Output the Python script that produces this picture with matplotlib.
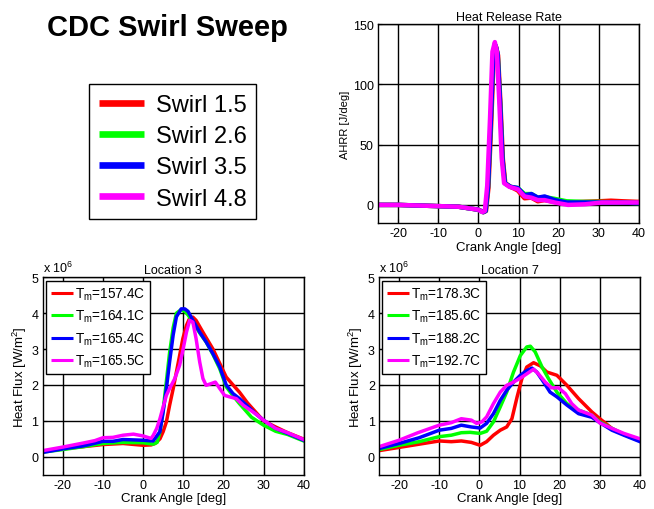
import matplotlib
matplotlib.use("Agg")
import matplotlib.pyplot as plt

plt.rcParams["font.family"] = ["Liberation Sans", "DejaVu Sans"]
plt.rcParams["axes.unicode_minus"] = False

COLORS = ["#ff0000", "#00ff00", "#0000ff", "#ff00ff"]
SWIRL = ["Swirl 1.5", "Swirl 2.6", "Swirl 3.5", "Swirl 4.8"]

# --- heat release rate [J/deg] ---
ahrr_red_x = [-25, -20, -10, -5, -2, 0, 1.3, 1.9, 2.5, 3.2, 3.8, 4.4, 4.9, 5.5, 6.1, 6.7, 8.0, 9.8, 11.5, 13.2, 14.8, 16.5, 19, 22, 26, 30, 33, 36, 40]
ahrr_red_y = [0, 0, -1, -1.5, -3, -4, -6, -5, 14, 68, 122, 131, 124, 84, 38, 18, 15, 12, 5.5, 6, 3, 4, 2.5, 2, 2.5, 3, 3.5, 3, 2.5]
ahrr_grn_x = [-25, -20, -10, -5, -2, 0, 1.2, 1.8, 2.4, 3.1, 3.7, 4.3, 4.8, 5.4, 6.0, 6.6, 8.0, 9.8, 11.5, 13.2, 14.8, 16.5, 19, 22, 26, 30, 35, 40]
ahrr_grn_y = [0, 0, -1, -1.5, -3, -4, -6, -5, 15, 70, 124, 132, 125, 85, 38, 18, 15, 14, 9, 9, 6, 6.5, 5, 3, 2.5, 2.5, 2, 1.5]
ahrr_blu_x = [-25, -20, -10, -5, -2, 0, 1.2, 1.8, 2.4, 3.1, 3.7, 4.3, 4.8, 5.4, 6.0, 6.6, 8.0, 9.8, 11.5, 13.2, 14.8, 16.5, 19, 22, 26, 30, 35, 40]
ahrr_blu_y = [0, 0, -1, -1.5, -3, -4, -6, -5, 15, 70, 124, 132, 125, 85, 38, 18, 15, 14, 8, 9, 6, 7, 4, 2, 2, 2, 2, 1.5]
ahrr_mag_x = [-25, -20, -10, -5, -2, 0, 1, 1.6, 2.2, 2.9, 3.5, 4.1, 4.6, 5.2, 5.8, 6.4, 7.7, 9.8, 11.5, 13.2, 14.8, 16.5, 19, 22.3, 26.5, 30.7, 35, 40]
ahrr_mag_y = [0, 0, -1, -1.5, -3, -4, -6, -5, 16, 72, 127, 135, 127, 86, 39, 18, 15, 13, 7, 6, 4, 4, 2, 0, 0.5, 2, 2, 2]

# --- location 3 heat flux [1e6 W/m2] ---
loc3_red_x = [-25, -20, -15, -10, -5, 0, 2, 3, 4.2, 5, 5.8, 6.6, 7.5, 8.3, 9.1, 9.9, 10.8, 11.6, 12.4, 13.2, 14.9, 17.4, 19.1, 20.7, 22.4, 24, 26, 28, 30, 33, 36, 40]
loc3_red_y = [0.15, 0.22, 0.28, 0.34, 0.37, 0.32, 0.33, 0.37, 0.5, 0.7, 0.97, 1.43, 1.9, 2.36, 2.82, 3.29, 3.66, 3.86, 3.89, 3.8, 3.47, 3.0, 2.6, 2.22, 2.0, 1.8, 1.5, 1.25, 1.0, 0.83, 0.67, 0.49]
loc3_grn_x = [-25, -20, -15, -10, -5, 0, 2.5, 3.5, 4.2, 5.0, 5.8, 6.6, 7.5, 8.3, 9.5, 10.4, 11.2, 12.4, 14.1, 15.7, 17.4, 19.1, 20.7, 22.4, 24, 27, 30, 33, 36, 40]
loc3_grn_y = [0.13, 0.2, 0.28, 0.37, 0.4, 0.39, 0.35, 0.4, 0.7, 1.3, 2.1, 2.9, 3.6, 4.0, 4.1, 4.05, 3.95, 3.75, 3.45, 3.2, 2.85, 2.45, 1.95, 1.7, 1.48, 1.1, 0.88, 0.71, 0.62, 0.44]
loc3_blu_x = [-25, -20, -15, -13, -10, -7.5, -5, 0, 2.5, 4.2, 5.0, 5.8, 6.6, 7.5, 8.3, 9.5, 10.4, 11.2, 12.4, 14.1, 15.7, 17.4, 19.1, 20.7, 22.4, 24, 28, 30, 33, 36, 40]
loc3_blu_y = [0.12, 0.22, 0.3, 0.35, 0.43, 0.43, 0.48, 0.46, 0.44, 0.7, 1.25, 1.9, 2.64, 3.4, 3.9, 4.12, 4.12, 4.05, 3.8, 3.47, 3.2, 2.87, 2.5, 2.0, 1.76, 1.62, 1.2, 1.02, 0.79, 0.65, 0.46]
loc3_mag_x = [-25, -20, -15, -12, -10, -7.5, -5, -2.4, 0, 2, 2.55, 3.4, 4.2, 5.0, 5.8, 6.6, 7.9, 9.1, 9.9, 10.8, 11.6, 12.4, 13.2, 14.1, 14.9, 15.7, 17.0, 18.0, 19.1, 20.3, 21.5, 23.2, 25, 28, 30, 33, 36, 40]
loc3_mag_y = [0.17, 0.27, 0.38, 0.45, 0.53, 0.54, 0.6, 0.63, 0.58, 0.51, 0.6, 0.79, 1.06, 1.39, 1.71, 1.9, 2.18, 2.55, 2.96, 3.47, 3.8, 3.75, 3.29, 2.64, 2.18, 1.99, 2.04, 2.08, 1.9, 1.71, 1.67, 1.62, 1.43, 1.2, 1.02, 0.79, 0.67, 0.48]
loc3_labels = ["157.4", "164.1", "165.4", "165.5"]

# --- location 7 heat flux [1e6 W/m2] ---
loc7_red_x = [-25, -20, -15, -10, -7, -4.5, -2, 0.2, 1.8, 3.5, 5.2, 6.8, 8.1, 9.4, 10.6, 11.8, 13.5, 15.2, 16.8, 19.3, 21.8, 24.7, 28, 30, 33, 36, 40]
loc7_red_y = [0.17, 0.26, 0.35, 0.44, 0.42, 0.44, 0.4, 0.32, 0.42, 0.6, 0.74, 0.83, 1.06, 1.67, 2.18, 2.5, 2.62, 2.53, 2.36, 2.27, 1.99, 1.62, 1.25, 1.06, 0.79, 0.62, 0.46]
loc7_grn_x = [-25, -20, -15, -10, -7, -4.5, -2.3, 0.2, 1.8, 3.5, 5.2, 6.8, 8.5, 10.2, 11.8, 12.7, 13.9, 15.6, 17.2, 19.3, 21.8, 24.7, 28, 30, 33, 36, 40]
loc7_grn_y = [0.2, 0.32, 0.42, 0.56, 0.6, 0.67, 0.68, 0.65, 0.71, 0.97, 1.39, 1.8, 2.36, 2.82, 3.06, 3.08, 2.92, 2.5, 2.18, 1.8, 1.48, 1.3, 1.16, 0.97, 0.79, 0.62, 0.44]
loc7_blu_x = [-25, -20, -15, -10, -7, -4.5, -2, 0.2, 1.8, 3.5, 5.2, 6.8, 8.5, 10.2, 11.8, 13.1, 14.3, 16, 17.6, 19.3, 21.8, 24.7, 28, 30, 33, 36, 40]
loc7_blu_y = [0.23, 0.37, 0.53, 0.74, 0.79, 0.88, 0.83, 0.8, 0.93, 1.2, 1.57, 1.85, 2.08, 2.27, 2.4, 2.47, 2.36, 2.08, 1.8, 1.67, 1.44, 1.2, 1.1, 0.95, 0.74, 0.6, 0.42]
loc7_mag_x = [-25, -20, -15.3, -10, -7, -4.5, -2, -0.7, 0.6, 1.8, 3.5, 5.2, 6.8, 8.5, 10.2, 11.8, 13.5, 14.7, 16.4, 18, 19.7, 21.4, 23, 24.7, 28, 30, 33, 36, 40]
loc7_mag_y = [0.28, 0.46, 0.67, 0.88, 0.95, 1.06, 1.02, 0.93, 0.97, 1.11, 1.48, 1.8, 1.99, 2.08, 2.19, 2.31, 2.44, 2.31, 2.08, 1.92, 1.92, 1.76, 1.48, 1.3, 1.16, 0.94, 0.79, 0.65, 0.5]
loc7_labels = ["178.3", "185.6", "188.2", "192.7"]

XTICKS = [-20, -10, 0, 10, 20, 30, 40]
W, H = 654, 510


def style(ax):
    ax.set_xlim(-25, 40)
    ax.set_xticks(XTICKS)
    ax.grid(True, color="black", lw=1.0)
    ax.set_axisbelow(True)
    ax.tick_params(direction="in", length=3, labelsize=9, pad=3)
    for s in ax.spines.values():
        s.set_color("black")
        s.set_linewidth(1.0)
    ax.set_xlabel("Crank Angle [deg]", fontsize=9.5, labelpad=1)


def frame(leg, lw):
    leg.get_frame().set_edgecolor("black")
    leg.get_frame().set_linewidth(1.0)
    for ln in leg.get_lines():
        ln.set_linewidth(lw)
        ln.set_solid_capstyle("butt")


fig = plt.figure(figsize=(W / 100, H / 100), dpi=100)

# heat release rate
ax = fig.add_axes([378 / W, 1 - 224 / H, 261 / W, 199 / H])
series = [(ahrr_red_x, ahrr_red_y), (ahrr_grn_x, ahrr_grn_y),
          (ahrr_blu_x, ahrr_blu_y), (ahrr_mag_x, ahrr_mag_y)]
handles = []
for (x, y), c in zip(series, COLORS):
    h, = ax.plot(x, y, color=c, lw=3.2, solid_capstyle="round")
    handles.append(h)
style(ax)
ax.set_ylim(-15, 150)
ax.set_yticks([0, 50, 100, 150])
ax.set_title("Heat Release Rate", fontsize=9, pad=3)
ax.set_ylabel("AHRR [J/deg]", fontsize=8, labelpad=2)

# heat flux panels
panels = [
    ("Location 3", 42.7, [(loc3_red_x, loc3_red_y), (loc3_grn_x, loc3_grn_y),
                          (loc3_blu_x, loc3_blu_y), (loc3_mag_x, loc3_mag_y)], loc3_labels),
    ("Location 7", 379, [(loc7_red_x, loc7_red_y), (loc7_grn_x, loc7_grn_y),
                         (loc7_blu_x, loc7_blu_y), (loc7_mag_x, loc7_mag_y)], loc7_labels),
]
for title, left, data, labels in panels:
    ax = fig.add_axes([left / W, 1 - 475.7 / H, 261 / W, 197.4 / H])
    for (x, y), c, lab in zip(data, COLORS, labels):
        ax.plot(x, y, color=c, lw=2.5, label=r"T$_\mathregular{m}$=" + lab + "C")
    style(ax)
    ax.set_ylim(-0.5, 5)
    ax.set_yticks([0, 1, 2, 3, 4, 5])
    ax.set_title(title, fontsize=9, pad=3)
    ax.set_ylabel(r"Heat Flux [W/m$^\mathregular{2}$]", fontsize=9.5, labelpad=2)
    ax.text(0.0, 1.01, r"x 10$^\mathregular{6}$", transform=ax.transAxes,
            fontsize=9, ha="left", va="bottom")
    leg = ax.legend(loc="upper left", fontsize=9.8, handlelength=1.6,
                    handletextpad=0.15, borderpad=0.35, borderaxespad=0.25,
                    labelspacing=0.45, fancybox=False, framealpha=1)
    frame(leg, 2.2)

fig.text(167 / W, 1 - 28 / H, "CDC Swirl Sweep", fontsize=21, fontweight="bold",
         ha="center", va="center")

leg = fig.legend(handles, SWIRL, loc="upper left",
                 bbox_to_anchor=(89 / W, 1 - 85 / H), borderaxespad=0,
                 fontsize=17, handlelength=1.9, handletextpad=0.5,
                 borderpad=0.42, labelspacing=0.39, fancybox=False, framealpha=1)
frame(leg, 4.8)

fig.savefig("out.png", dpi=100, facecolor="white")
